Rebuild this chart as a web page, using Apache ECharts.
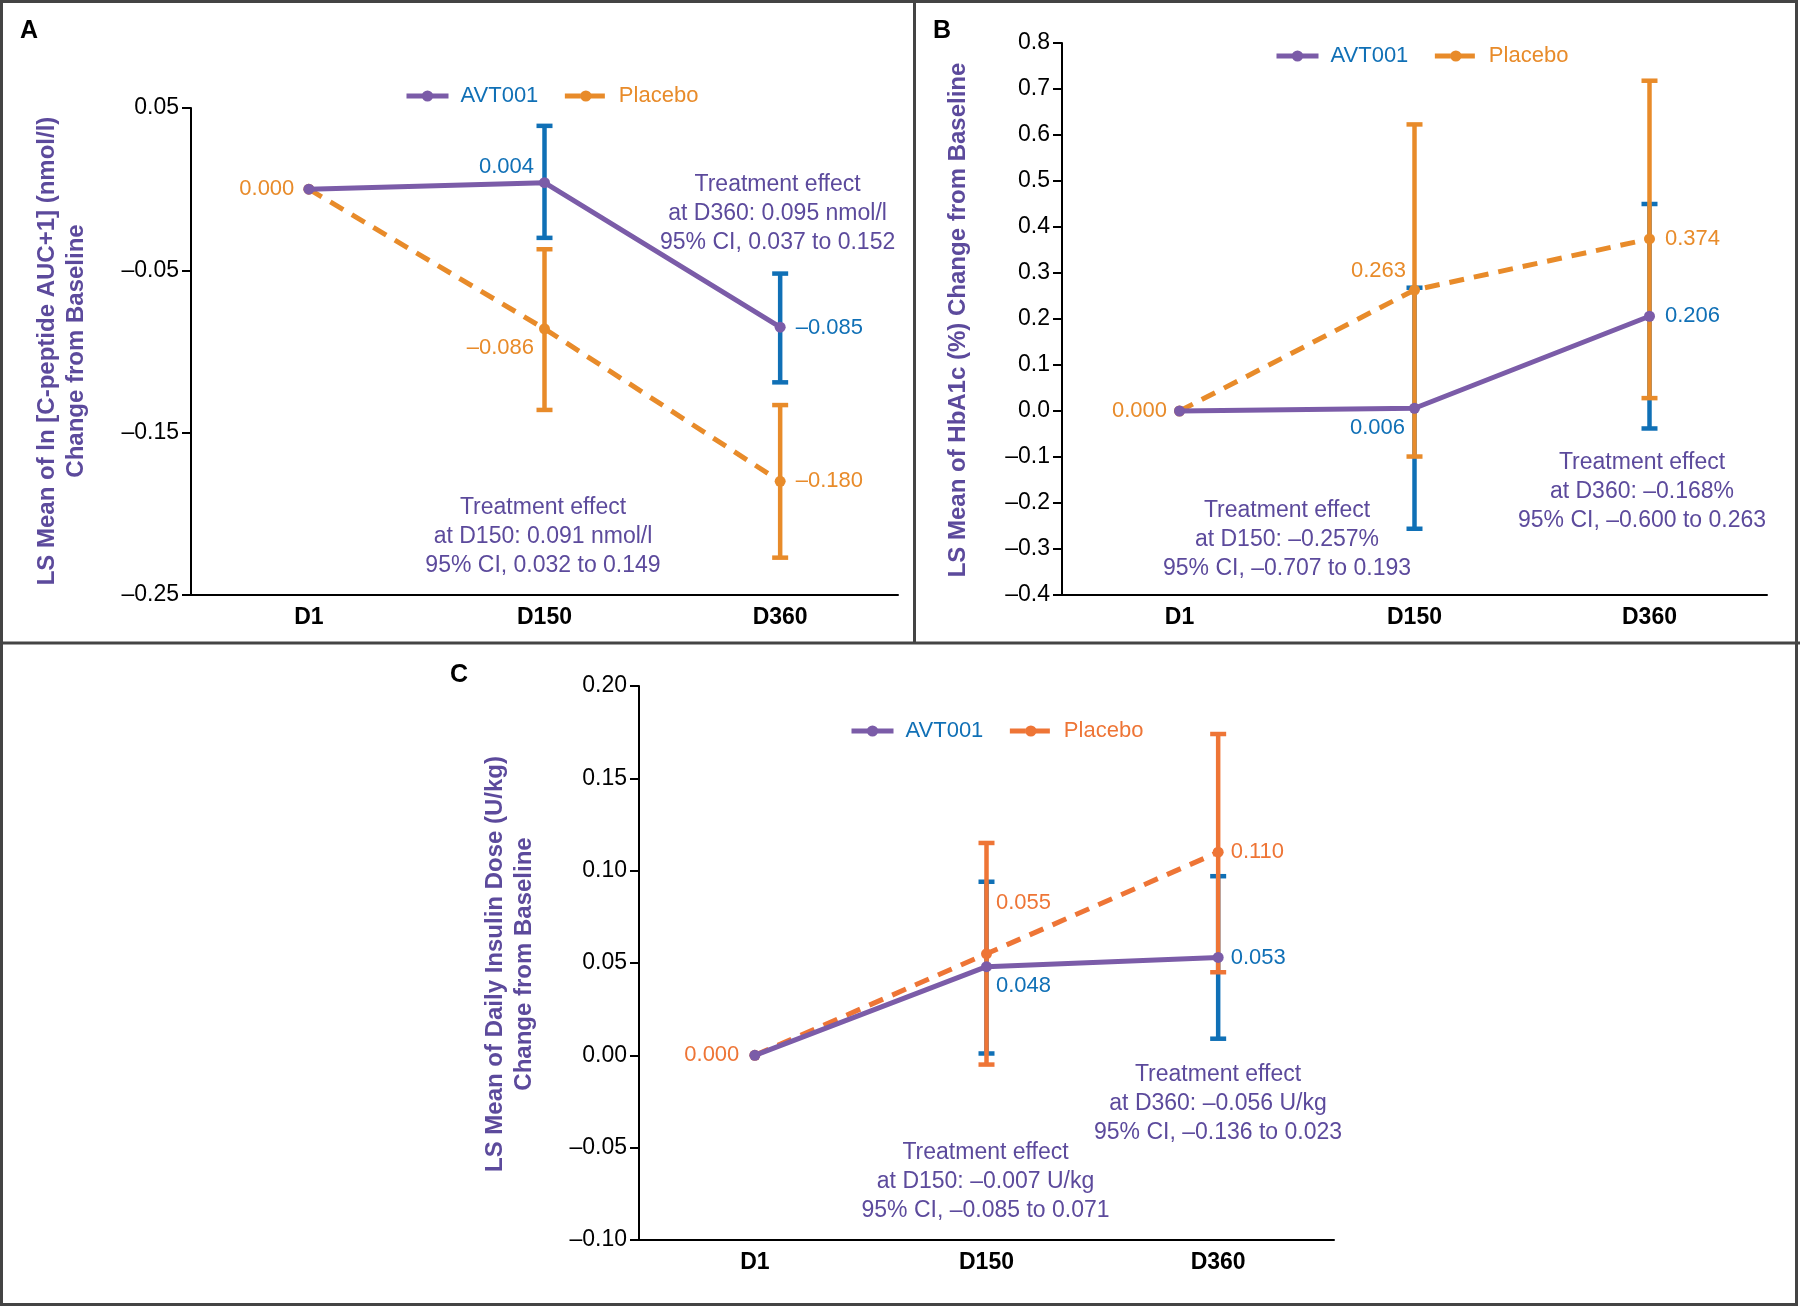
<!DOCTYPE html>
<html>
<head>
<meta charset="utf-8">
<script src="https://cdn.jsdelivr.net/npm/echarts@6/dist/echarts.min.js"></script>
<style>
html,body{margin:0;padding:0;background:#fff;}
#chart{width:1800px;height:1307px;}
</style>
</head>
<body>
<div id="chart"></div>
<script>
// ---------- DATA ----------
const categories = ['D1', 'D150', 'D360'];

// Panel A: C-peptide
const avtA = [0.000, 0.004, -0.085];
const pboA = [0.000, -0.086, -0.180];
const avtA_ci = [[1, -0.030, 0.039], [2, -0.119, -0.052]];
const pboA_ci = [[1, -0.136, -0.037], [2, -0.227, -0.133]];
const ticksA = [-0.25, -0.15, -0.05, 0.05];

// Panel B: HbA1c
const avtB = [0.000, 0.006, 0.206];
const pboB = [0.000, 0.263, 0.374];
const avtB_ci = [[1, -0.256, 0.268], [2, -0.038, 0.450]];
const pboB_ci = [[1, -0.099, 0.623], [2, 0.028, 0.718]];
const ticksB = [-0.4, -0.3, -0.2, -0.1, 0.0, 0.1, 0.2, 0.3, 0.4, 0.5, 0.6, 0.7, 0.8];

// Panel C: insulin dose
const avtC = [0.000, 0.048, 0.053];
const pboC = [0.000, 0.055, 0.110];
const avtC_ci = [[1, 0.001, 0.094], [2, 0.009, 0.097]];
const pboC_ci = [[1, -0.005, 0.115], [2, 0.045, 0.174]];
const ticksC = [-0.10, -0.05, 0.00, 0.05, 0.10, 0.15, 0.20];

const titlesY = [
  'LS Mean of ln [C-peptide AUC+1] (nmol/l)\nChange from Baseline',
  'LS Mean of HbA1c (%) Change from Baseline',
  'LS Mean of Daily Insulin Dose (U/kg)\nChange from Baseline'
];
const effectTexts = [
  ['Treatment effect\nat D150: 0.091 nmol/l\n95% CI, 0.032 to 0.149',
   'Treatment effect\nat D360: 0.095 nmol/l\n95% CI, 0.037 to 0.152'],
  ['Treatment effect\nat D150: \u20130.257%\n95% CI, \u20130.707 to 0.193',
   'Treatment effect\nat D360: \u20130.168%\n95% CI, \u20130.600 to 0.263'],
  ['Treatment effect\nat D150: \u20130.007 U/kg\n95% CI, \u20130.085 to 0.071',
   'Treatment effect\nat D360: \u20130.056 U/kg\n95% CI, \u20130.136 to 0.023']
];

// ---------- STYLE ----------
const PURPLE = '#7B5CA8', BLUE = '#1070B6', ORANGE = '#E88B2A', ORANGE_C = '#EE7536', TXT = '#5C4A9C';
const FONT = '"Liberation Sans", Arial, sans-serif';
const DASH = [15, 10];

const grids = [
  {left: 191, top: 108, width: 707, height: 487},
  {left: 1062, top: 43, width: 705, height: 552},
  {left: 639, top: 686, width: 695, height: 554}
];
const yCfg = [
  {min: -0.25, max: 0.05, interval: 0.1, ticks: ticksA, dec: 2},
  {min: -0.4, max: 0.8, interval: 0.1, ticks: ticksB, dec: 1},
  {min: -0.10, max: 0.20, interval: 0.05, ticks: ticksC, dec: 2}
];
const fmt = (v, d) => { const s = Math.abs(v).toFixed(d); return (v < -1e-9 ? '\u2013' : '') + s; };

// label placement (style only)
const lblA = {
  avt: [null, {position: 'left', distance: 5, offset: [0, -16]}, {position: 'right', distance: 10, offset: [0, 1]}],
  pbo: [{position: 'left', distance: 9}, {position: 'left', distance: 5, offset: [0, 19]}, {position: 'right', distance: 10}]
};
const lblB = {
  avt: [null, {position: 'left', distance: 4, offset: [0, 20]}, {position: 'right', distance: 10}],
  pbo: [{position: 'left', distance: 7}, {position: 'left', distance: 3, offset: [0, -19]}, {position: 'right', distance: 10}]
};
const lblC = {
  avt: [null, {position: 'right', distance: 4, offset: [0, 19]}, {position: 'right', distance: 7}],
  pbo: [{position: 'left', distance: 10}, {position: 'right', distance: 4, offset: [0, -51]}, {position: 'right', distance: 7}]
};

function mkData(vals, lbls, color) {
  return vals.map((v, i) => {
    const l = lbls[i];
    if (!l) return {value: v, label: {show: false}};
    return {value: v, label: Object.assign({show: true, color: color, fontSize: 22, fontFamily: FONT,
      formatter: p => fmt(p.value, 3)}, l)};
  });
}

function errBar(idx, data, color, z) {
  return {
    type: 'custom', xAxisIndex: idx, yAxisIndex: idx, z: z,
    data: data, encode: {x: 0, y: [1, 2]},
    renderItem: function (params, api) {
      const lo = api.coord([api.value(0), api.value(1)]);
      const hi = api.coord([api.value(0), api.value(2)]);
      const hw = 8;
      const st = {stroke: color, lineWidth: 4.5};
      return {type: 'group', children: [
        {type: 'line', shape: {x1: lo[0], y1: lo[1], x2: hi[0], y2: hi[1]}, style: st},
        {type: 'line', shape: {x1: lo[0] - hw, y1: lo[1], x2: lo[0] + hw, y2: lo[1]}, style: st},
        {type: 'line', shape: {x1: hi[0] - hw, y1: hi[1], x2: hi[0] + hw, y2: hi[1]}, style: st}
      ]};
    }
  };
}

function lineSeries(idx, name, vals, lbls, color, lineColor, dashed, z) {
  return {
    type: 'line', name: name, xAxisIndex: idx, yAxisIndex: idx, z: z,
    data: mkData(vals, lbls, color),
    symbol: 'circle', symbolSize: 11,
    itemStyle: {color: lineColor},
    lineStyle: {color: lineColor, width: 5, type: dashed ? DASH : 'solid'},
    emphasis: {disabled: true}
  };
}

const panels = [
  {avt: avtA, pbo: pboA, avtCI: avtA_ci, pboCI: pboA_ci, lbl: lblA, orange: ORANGE},
  {avt: avtB, pbo: pboB, avtCI: avtB_ci, pboCI: pboB_ci, lbl: lblB, orange: ORANGE},
  {avt: avtC, pbo: pboC, avtCI: avtC_ci, pboCI: pboC_ci, lbl: lblC, orange: ORANGE_C}
];

const series = [];
panels.forEach((p, i) => {
  series.push(errBar(i, p.avtCI, BLUE, 2));
  series.push(errBar(i, p.pboCI, p.orange, 3));
  series.push(lineSeries(i, 'Placebo', p.pbo, p.lbl.pbo, p.orange, p.orange, true, 4));
  series.push(lineSeries(i, 'AVT001', p.avt, p.lbl.avt, BLUE, PURPLE, false, 5));
});

const xAxis = grids.map((g, i) => ({
  type: 'category', gridIndex: i, data: categories, boundaryGap: true,
  axisLine: {onZero: false, lineStyle: {color: '#000', width: 2}},
  axisTick: {show: false},
  axisLabel: {color: '#000', fontSize: 23, fontWeight: 'bold', fontFamily: FONT, margin: 11}
}));
const yAxis = yCfg.map((c, i) => ({
  type: 'value', gridIndex: i, min: c.min, max: c.max, interval: c.interval,
  axisLine: {show: true, onZero: false, lineStyle: {color: '#000', width: 2}},
  axisTick: {show: true, length: 9, lineStyle: {color: '#000', width: 2}, customValues: c.ticks},
  axisLabel: {color: '#000', fontSize: 23, fontFamily: FONT, margin: 12, customValues: c.ticks,
    formatter: v => fmt(v, c.dec)},
  splitLine: {show: false}
}));

const legendPos = [{left: 399, top: 79}, {left: 1269, top: 39}, {left: 844, top: 714}];
const legend = legendPos.map((lp, i) => ({
  left: lp.left, top: lp.top, orient: 'horizontal', itemWidth: 42, itemHeight: 14, itemGap: 24,
  selectedMode: false,
  textStyle: {fontSize: 22, fontFamily: FONT, lineHeight: 24, padding: [0, 0, 0, 7]},
  data: [
    {name: 'AVT001', textStyle: {color: BLUE}, itemStyle: {color: PURPLE},
      lineStyle: {color: PURPLE, width: 5, type: 'solid'}},
    {name: 'Placebo', textStyle: {color: panels[i].orange}, itemStyle: {color: panels[i].orange},
      lineStyle: {color: panels[i].orange, width: 5, type: [16, 8]}}
  ]
}));

// ---------- GRAPHIC (frames, letters, titles, notes) ----------
const graphic = [
  {type: 'rect', shape: {x: 1.5, y: 1.5, width: 1795, height: 1303}, style: {fill: 'none', stroke: '#444', lineWidth: 3}, silent: true},
  {type: 'line', shape: {x1: 914.5, y1: 0, x2: 914.5, y2: 643}, style: {stroke: '#444', lineWidth: 3}, silent: true},
  {type: 'line', shape: {x1: 0, y1: 643, x2: 1800, y2: 643}, style: {stroke: '#444', lineWidth: 3}, silent: true}
];
const letters = [['A', 29, 31], ['B', 942, 31], ['C', 459, 675]];
letters.forEach(l => graphic.push({type: 'text', x: l[1], y: l[2],
  style: {text: l[0], fill: '#000', font: 'bold 25px ' + FONT, align: 'center', verticalAlign: 'middle'}}));
const titlePos = [[61.5, 351], [958, 320], [510, 964]];
titlesY.forEach((t, i) => graphic.push({type: 'text', x: titlePos[i][0], y: titlePos[i][1], rotation: Math.PI / 2,
  style: {text: t, fill: TXT, font: 'bold 24px ' + FONT, lineHeight: 29, align: 'center', verticalAlign: 'middle'}}));
const notePos = [[[543, 537], [777.6, 214]], [[1287, 540], [1642, 492]], [[985.5, 1182], [1218, 1104]]];
effectTexts.forEach((pair, i) => pair.forEach((t, j) => graphic.push({type: 'text', x: notePos[i][j][0], y: notePos[i][j][1],
  style: {text: t, fill: TXT, font: '23px ' + FONT, lineHeight: 29, align: 'center', verticalAlign: 'middle'}})));

const chart = echarts.init(document.getElementById('chart'), null, {renderer: 'canvas'});
chart.setOption({
  animation: false,
  backgroundColor: '#fff',
  grid: grids,
  xAxis: xAxis,
  yAxis: yAxis,
  legend: legend,
  series: series,
  graphic: graphic
});
</script>
</body>
</html>
